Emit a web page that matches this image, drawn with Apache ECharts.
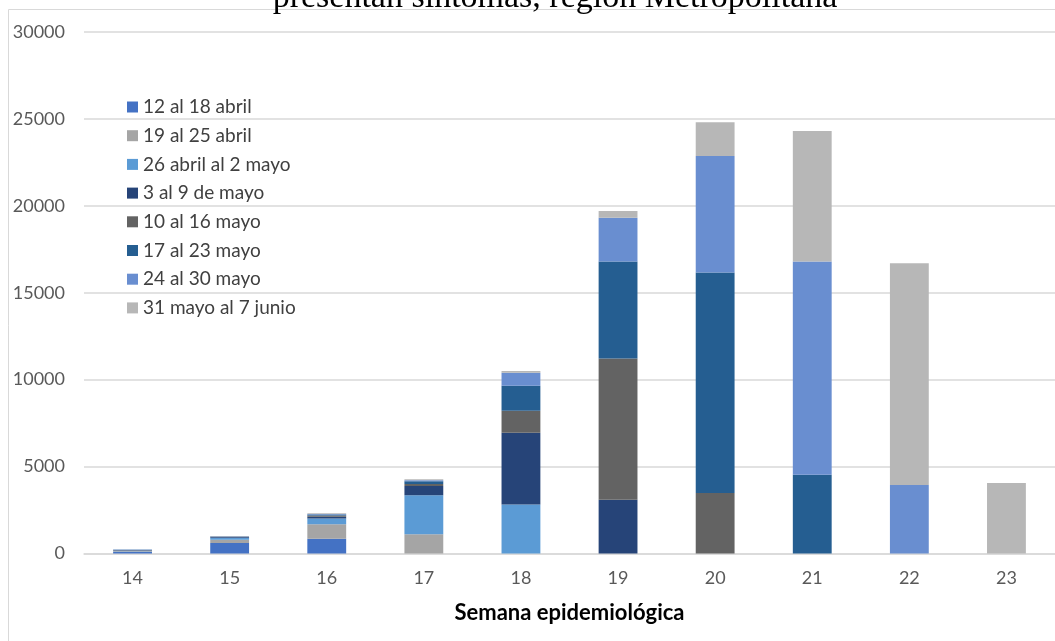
<!DOCTYPE html>
<html>
<head>
<meta charset="utf-8">
<script src="https://cdn.jsdelivr.net/npm/echarts@6/dist/echarts.min.js"></script>
<style>html,body{margin:0;padding:0;background:#fff}#c{width:1055px;height:641px}</style>
</head>
<body>
<div id="c"></div>
<script>
const categories = ['14','15','16','17','18','19','20','21','22','23'];
const seriesNames = ['12 al 18 abril','19 al 25 abril','26 abril al 2 mayo','3 al 9 de mayo','10 al 16 mayo','17 al 23 mayo','24 al 30 mayo','31 mayo al 7 junio'];
const s12al18abril   = [80, 600, 850, null, null, null, null, null, null, null];
const s19al25abril   = [40, 190, 825, 1100, null, null, null, null, null, null];
const s26abral2mayo  = [35, 110, 330, 2250, 2810, null, null, null, null, null];
const s3al9mayo      = [30, 40, 110, 530, 4130, 3080, null, null, null, null];
const s10al16mayo    = [15, 20, 70, 120, 1270, 8140, 3480, null, null, null];
const s17al23mayo    = [10, 15, 50, 150, 1440, 5580, 12680, 4520, null, null];
const s24al30mayo    = [10, 10, 30, 60, 750, 2510, 6710, 12280, 3930, null];
const s31mayo7junio  = [10, 10, 40, 60, 100, 390, 1940, 7500, 12770, 4045];
const seriesData = [s12al18abril, s19al25abril, s26abral2mayo, s3al9mayo, s10al16mayo, s17al23mayo, s24al30mayo, s31mayo7junio];
const colors = ['#4472C4','#A5A5A5','#5B9BD5','#264478','#636363','#255E91','#698ED0','#B7B7B7'];

const chart = echarts.init(document.getElementById('c'));
chart.setOption({
  animation: false,
  color: colors,
  graphic: [
    { type: 'rect', shape: { x: 8.5, y: 9.5, width: 1100, height: 700 }, style: { fill: 'none', stroke: '#d9d9d9', lineWidth: 1 }, z: -10 },
    { type: 'text', x: 555, y: -19, style: { text: 'presentan síntomas, región Metropolitana', font: '34px "Liberation Serif"', fill: '#000', textAlign: 'center' } }
  ],
  legend: {
    orient: 'vertical',
    left: 122,
    top: 92,
    itemWidth: 11,
    itemHeight: 11,
    itemGap: 8.7,
    icon: 'rect',
    textStyle: { fontFamily: 'Lato', fontSize: 19, color: '#404040', lineHeight: 20 },
    data: seriesNames
  },
  grid: { left: 84, right: 0, top: 32, bottom: 87.6, containLabel: false },
  xAxis: {
    type: 'category',
    data: categories,
    name: 'Semana epidemiológica',
    nameLocation: 'middle',
    nameGap: 49,
    nameTextStyle: { fontFamily: 'Lato', fontSize: 22, fontWeight: 'bold', color: '#000' },
    axisLine: { lineStyle: { color: '#d9d9d9', width: 1.5 } },
    axisTick: { show: false },
    axisLabel: { fontFamily: 'Lato', fontSize: 18, color: '#595959', margin: 16 }
  },
  yAxis: {
    type: 'value',
    min: 0, max: 30000, interval: 5000,
    axisLine: { show: false },
    axisTick: { show: false },
    splitLine: { lineStyle: { color: '#d9d9d9', width: 1.5 } },
    axisLabel: { fontFamily: 'Lato', fontSize: 18, color: '#595959', margin: 19, formatter: v => String(v) }
  },
  series: seriesNames.map((n, i) => ({
    name: n,
    type: 'bar',
    stack: 'total',
    barWidth: '40%',
    data: seriesData[i]
  }))
});
</script>
</body>
</html>
